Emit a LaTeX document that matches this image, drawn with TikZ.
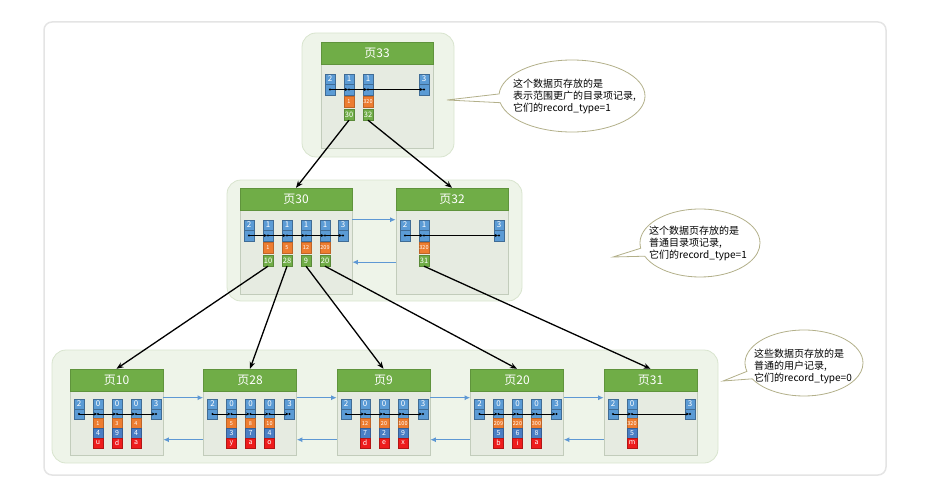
\documentclass[tikz,border=0pt]{standalone}
\usepackage{fontspec}
\setmainfont{Noto Sans CJK SC}
\usetikzlibrary{arrows.meta,shapes.geometric,shapes.callouts}

\definecolor{hdrgreen}{HTML}{70AD47}
\definecolor{recblue}{HTML}{5B9BD5}
\definecolor{valblue}{HTML}{4A7EC4}
\definecolor{keyorange}{HTML}{ED7D31}
\definecolor{valred}{HTML}{EE1C1C}
\definecolor{groupfill}{HTML}{EEF4E9}
\definecolor{groupline}{HTML}{D8E4CE}
\definecolor{pagefill}{HTML}{E6EBE1}
\definecolor{pageline}{HTML}{C2CCBB}
\definecolor{linkblue}{HTML}{5E98D4}
\definecolor{noteline}{HTML}{B3B08A}
\definecolor{cardline}{HTML}{E4E4E4}

\tikzset{
  card/.style={draw=cardline, line width=1.5pt, rounded corners=8pt, inner sep=0pt},
  group/.style={draw=groupline, fill=groupfill, line width=0.8pt, rounded corners=14pt, inner sep=0pt},
  pagebody/.style={draw=pageline, fill=pagefill, line width=0.6pt, inner sep=0pt},
  header/.style={draw=hdrgreen!85!black, fill=hdrgreen, text=white, minimum height=22, inner sep=0pt, font=\fontsize{12}{12}\selectfont},
  cellbase/.style={minimum width=10, inner sep=0pt, text=white, line width=0.4pt},
  recnum/.style={cellbase, fill=recblue, draw=recblue!70!black, minimum height=10.5, font=\fontsize{8}{8}\selectfont},
  recdot/.style={cellbase, fill=recblue, draw=recblue!70!black, minimum height=10.5,
    path picture={\fill[black] (path picture bounding box.center) circle (1.1pt);}},
  keycell/.style={cellbase, fill=keyorange, draw=keyorange!80!black, minimum height=10.5, font=\fontsize{5.5}{5.5}\selectfont},
  pagecell/.style={cellbase, fill=hdrgreen, draw=hdrgreen!80!black, minimum height=11, font=\fontsize{7.5}{7.5}\selectfont},
  valcell/.style={cellbase, fill=valblue, draw=valblue!75!black, minimum height=9.5, font=\fontsize{7}{7}\selectfont},
  charcell/.style={cellbase, fill=valred, draw=valred!75!black, minimum height=10, font=\fontsize{7}{7}\selectfont},
  chain/.style={-{Stealth[length=3.2pt,width=3pt]}, line width=0.6pt, black, shorten >=1pt},
  link/.style={-{Latex[length=5.5pt,width=5pt]}, linkblue, line width=1.4pt},
  tree/.style={-{Stealth[length=7pt,width=5.5pt]}, line width=1.3pt, black},
  note/.style={ellipse callout, draw=noteline, fill=white, line width=0.8pt, inner sep=0pt, callout pointer arc=14},
  notetext/.style={align=left, inner sep=0pt, font=\fontsize{10}{12}\selectfont, anchor=west},
}

\begin{document}
\begin{tikzpicture}[x=1pt,y=-1pt]
  \useasboundingbox (0,0) rectangle (927,503);
  \node[card, minimum width=842, minimum height=453] (card) at (465,248.5) {};

  % groups of pages
  \node[group, minimum width=152, minimum height=124] (g33) at (378,95) {};
  \node[group, minimum width=295, minimum height=121] (g30) at (374.5,240.5) {};
  \node[group, minimum width=666, minimum height=113] (gleaf) at (385,406.5) {};

  % notes
  \coordinate (tip33) at (447,100);
  \coordinate (tip30) at (613,257);
  \coordinate (tipleaf) at (723,381);
  \node[note, minimum width=146, minimum height=72, callout absolute pointer={(tip33)}] (note33) at (572,96) {};
  \node[notetext] (txt33) at (513,96) {这个数据页存放的是\\表示范围更广的目录项记录,\\它们的record\_type=1};
  \node[note, minimum width=120, minimum height=68, callout absolute pointer={(tip30)}] (note30) at (700,243) {};
  \node[notetext] (txt30) at (649,243.5) {这个数据页存放的是\\普通目录项记录,\\它们的record\_type=1};
  \node[note, minimum width=118, minimum height=66, callout absolute pointer={(tipleaf)}] (noteleaf) at (804,363) {};
  \node[notetext] (txtleaf) at (754,366) {这些数据页存放的是\\普通的用户记录,\\它们的record\_type=0};

  % directory pages
  \foreach \pg/\lft/\hy/\n/\recs in {33/321/42/2/{1/30,320/32}, 30/240/188/4/{1/10,5/28,12/9,209/20}, 32/396/188/1/{320/31}} {
    \node[pagebody, minimum width=112, minimum height=84] (b\pg) at (\lft+56,\hy+64) {};
    \node[header, minimum width=112] (h\pg) at (\lft+56,\hy+11) {页\pg};
    \node[recnum] (p\pg n0) at (\lft+9,\hy+37) {2};
    \node[recdot] (p\pg d0) at (\lft+9,\hy+47.5) {};
    \foreach \key/\child [count=\i, remember=\i as \prev (initially 0)] in \recs {
      \node[recnum] (p\pg n\i) at (\lft+9+19*\i,\hy+37) {1};
      \node[recdot] (p\pg d\i) at (\lft+9+19*\i,\hy+47.5) {};
      \node[keycell] (p\pg o\i) at (\lft+9+19*\i,\hy+59.5) {\key};
      \node[pagecell] (p\pg k\i) at (\lft+9+19*\i,\hy+72.5) {\child};
      \draw[chain] (p\pg d\prev.center) -- (p\pg d\i.center);
    }
    \node[recnum] (p\pg n9) at (\lft+103,\hy+37) {3};
    \node[recdot] (p\pg d9) at (\lft+103,\hy+47.5) {};
    \draw[chain] (p\pg d\n.center) -- (p\pg d9.center);
  }

  % user record pages
  \foreach \pg/\lft/\n/\recs in {10/70/3/{1/4/u,3/9/d,4/4/a}, 28/203.5/3/{5/3/y,8/7/a,10/4/o}, 9/337/3/{12/7/d,20/2/e,100/9/x}, 20/470.5/3/{209/5/b,220/6/i,300/8/a}, 31/604/1/{320/5/m}} {
    \node[pagebody, minimum width=93, minimum height=64] (b\pg) at (\lft+46.5,423) {};
    \node[header, minimum width=93] (h\pg) at (\lft+46.5,380) {页\pg};
    \node[recnum] (p\pg n0) at (\lft+9,404) {2};
    \node[recdot] (p\pg d0) at (\lft+9,414) {};
    \foreach \key/\val/\ch [count=\i, remember=\i as \prev (initially 0)] in \recs {
      \node[recnum] (p\pg n\i) at (\lft+9+19*\i,404) {0};
      \node[recdot] (p\pg d\i) at (\lft+9+19*\i,414) {};
      \node[keycell] (p\pg o\i) at (\lft+9+19*\i,423.5) {\key};
      \node[valcell] (p\pg v\i) at (\lft+9+19*\i,433) {\val};
      \node[charcell] (p\pg c\i) at (\lft+9+19*\i,443) {\ch};
      \draw[chain] (p\pg d\prev.center) -- (p\pg d\i.center);
    }
    \node[recnum] (p\pg n9) at (\lft+86,404) {3};
    \node[recdot] (p\pg d9) at (\lft+86,414) {};
    \draw[chain] (p\pg d\n.center) -- (p\pg d9.center);
  }

  % links between neighbour pages
  \draw[link] ([yshift=-10pt]b30.north east) -- ([yshift=-10pt]b32.north west);
  \draw[link] ([yshift=-52.5pt]b32.north west) -- ([yshift=-52.5pt]b30.north east);
  \foreach \a/\b in {10/28, 28/9, 9/20, 20/31} {
    \draw[link] ([yshift=-7pt]b\a.north east) -- ([yshift=-7pt]b\b.north west);
    \draw[link] ([yshift=-49pt]b\b.north west) -- ([yshift=-49pt]b\a.north east);
  }

  % pointers to child pages
  \draw[tree] (p33k1.south) -- (h30.north);
  \draw[tree] (p33k2.south) -- (h32.north);
  \draw[tree] (p30k1.south) -- (h10.north);
  \draw[tree] (p30k2.south) -- (h28.north);
  \draw[tree] (p30k3.south) -- (h9.north);
  \draw[tree] (p30k4.south) -- (h20.north);
  \draw[tree] (p32k1.south) -- (h31.north);
\end{tikzpicture}
\end{document}
